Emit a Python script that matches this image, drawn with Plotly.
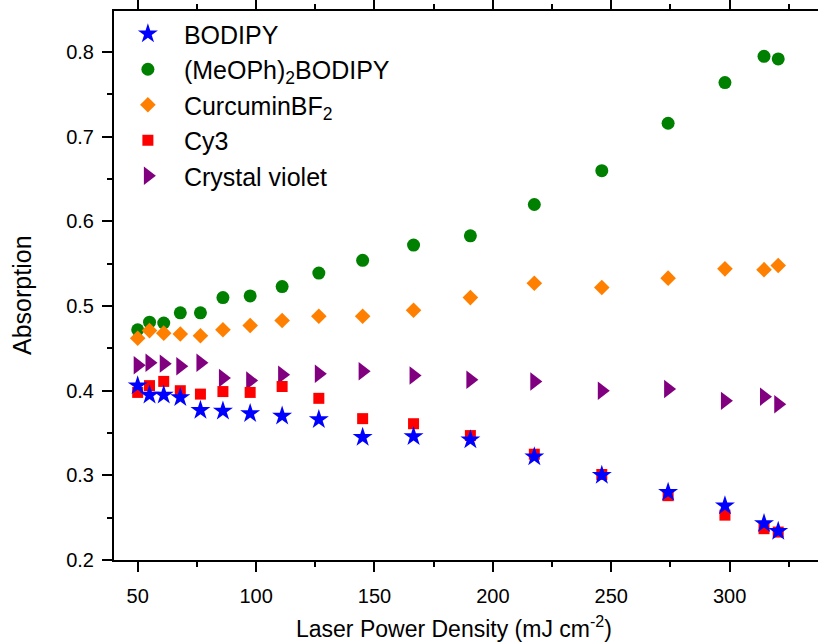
import plotly.graph_objects as go

x_power = [50, 55, 61, 68, 76.5, 86, 97.5, 111, 126.5, 145, 166.5, 190.5, 217.5, 246, 274, 298, 314.5, 320.5]

bodipy = [0.406, 0.395, 0.395, 0.392, 0.377, 0.376, 0.373, 0.370, 0.366, 0.345, 0.346, 0.342, 0.322, 0.300, 0.280, 0.264, 0.243, 0.234]
meoph_bodipy = [0.472, 0.481, 0.480, 0.492, 0.492, 0.510, 0.512, 0.523, 0.539, 0.554, 0.572, 0.583, 0.620, 0.660, 0.716, 0.764, 0.795, 0.792]
curcumin_bf2 = [0.462, 0.471, 0.468, 0.467, 0.465, 0.472, 0.477, 0.483, 0.488, 0.488, 0.495, 0.510, 0.527, 0.522, 0.533, 0.544, 0.543, 0.548]
cy3 = [0.398, 0.406, 0.411, 0.400, 0.396, 0.399, 0.398, 0.405, 0.391, 0.367, 0.361, 0.347, 0.325, 0.301, 0.276, 0.253, 0.237, 0.233]
crystal_violet = [0.430, 0.433, 0.432, 0.429, 0.433, 0.415, 0.412, 0.419, 0.420, 0.423, 0.418, 0.413, 0.411, 0.400, 0.402, 0.388, 0.393, 0.384]

names = ["BODIPY", "(MeOPh)<sub>2</sub>BODIPY", "CurcuminBF<sub>2</sub>", "Cy3", "Crystal violet"]
x_tick_vals = [50, 100, 150, 200, 250, 300]
y_tick_vals = [0.2, 0.3, 0.4, 0.5, 0.6, 0.7, 0.8]

FONT = "Arial, 'Liberation Sans', sans-serif"

fig = go.Figure()
series = [
    (names[1], meoph_bodipy, "circle", "#008000", 13),
    (names[2], curcumin_bf2, "diamond", "#FF8000", 12),
    (names[4], crystal_violet, "triangle-right", "#800080", 16),
    (names[3], cy3, "square", "#FF0000", 11),
    (names[0], bodipy, "star", "#0000FF", 15),
]
order = {names[0]: 1, names[1]: 2, names[2]: 3, names[3]: 4, names[4]: 5}
for nm, ys, sym, col, sz in series:
    fig.add_trace(go.Scatter(
        x=x_power, y=ys, mode="markers", name=nm,
        marker=dict(symbol=sym, color=col, size=sz, line=dict(width=0)),
        legendrank=order[nm],
    ))

axis_common = dict(
    showline=True, linecolor="black", linewidth=2,
    ticks="outside", ticklen=10, tickwidth=2, tickcolor="black",
    showgrid=False, zeroline=False,
    tickfont=dict(family=FONT, size=20, color="black"),
)

fig.update_xaxes(
    range=[40, 337.3], tickmode="array", tickvals=x_tick_vals,
    mirror="ticks", ticklabelstandoff=7,
    minor=dict(ticks="outside", ticklen=5, tickwidth=2, tickcolor="black", dtick=25, tick0=0),
    **axis_common,
)
fig.update_yaxes(
    range=[0.2, 0.8486], tickmode="array", tickvals=y_tick_vals,
    ticktext=[f"{v:.1f}" for v in y_tick_vals],
    mirror=False, ticklabelstandoff=4,
    minor=dict(ticks="outside", ticklen=5, tickwidth=2, tickcolor="black", dtick=0.05, tick0=0),
    **axis_common,
)

fig.add_annotation(
    text="Laser Power Density (mJ cm<sup>-2</sup>)",
    xref="paper", yref="paper", x=0.483, y=0, yanchor="middle", xanchor="center",
    yshift=-67, showarrow=False,
    font=dict(family=FONT, size=23, color="black"),
)
fig.add_annotation(
    text="Absorption", textangle=-90,
    xref="paper", yref="paper", x=-0.1307, y=0.4827, xanchor="center", yanchor="middle",
    showarrow=False,
    font=dict(family=FONT, size=25, color="black"),
)

fig.update_layout(
    width=818, height=642,
    margin=dict(l=114, r=0, t=11, b=82),
    paper_bgcolor="white", plot_bgcolor="white",
    showlegend=True,
    legend=dict(
        x=-0.003, y=1.0, xanchor="left", yanchor="top",
        font=dict(family=FONT, size=25, color="black"),
        bgcolor="rgba(0,0,0,0)", tracegroupgap=0,
        traceorder="normal", itemwidth=62,
    ),
)

fig.write_html("out.html")
